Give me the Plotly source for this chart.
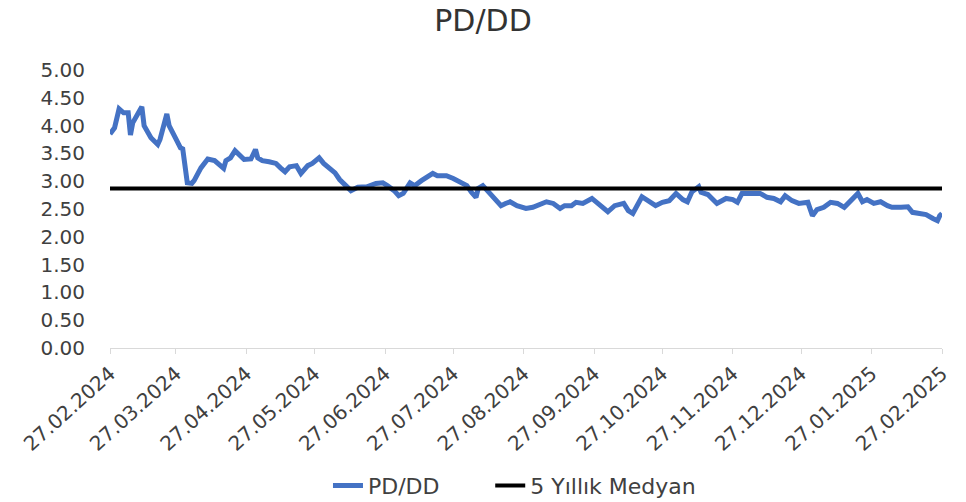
import plotly.graph_objects as go

dates = [
    "2024-02-27", "2024-02-29", "2024-03-02", "2024-03-04", "2024-03-06", "2024-03-07", "2024-03-08",
    "2024-03-10", "2024-03-12", "2024-03-13", "2024-03-15", "2024-03-16", "2024-03-19", "2024-03-20",
    "2024-03-23", "2024-03-24", "2024-03-27", "2024-03-29", "2024-03-30", "2024-04-01", "2024-04-03",
    "2024-04-04", "2024-04-07", "2024-04-10", "2024-04-13", "2024-04-15", "2024-04-17", "2024-04-18",
    "2024-04-20", "2024-04-22", "2024-04-24", "2024-04-26", "2024-04-29", "2024-05-01", "2024-05-02",
    "2024-05-04", "2024-05-07", "2024-05-10", "2024-05-12", "2024-05-14", "2024-05-16", "2024-05-19",
    "2024-05-21", "2024-05-24", "2024-05-26", "2024-05-29", "2024-05-31", "2024-06-03", "2024-06-05",
    "2024-06-07", "2024-06-10", "2024-06-12", "2024-06-15", "2024-06-19", "2024-06-23", "2024-06-26",
    "2024-06-28", "2024-07-01", "2024-07-03", "2024-07-05", "2024-07-08", "2024-07-10", "2024-07-13",
    "2024-07-15", "2024-07-18", "2024-07-20", "2024-07-24", "2024-07-27", "2024-07-30", "2024-08-02",
    "2024-08-04", "2024-08-06", "2024-08-07", "2024-08-09", "2024-08-11", "2024-08-14", "2024-08-17",
    "2024-08-19", "2024-08-21", "2024-08-24", "2024-08-28", "2024-08-31", "2024-09-03", "2024-09-06",
    "2024-09-09", "2024-09-12", "2024-09-14", "2024-09-17", "2024-09-19", "2024-09-22", "2024-09-26",
    "2024-09-30", "2024-10-03", "2024-10-06", "2024-10-10", "2024-10-12", "2024-10-14", "2024-10-18",
    "2024-10-21", "2024-10-24", "2024-10-27", "2024-10-30", "2024-11-02", "2024-11-05", "2024-11-07",
    "2024-11-09", "2024-11-12", "2024-11-13", "2024-11-16", "2024-11-20", "2024-11-24", "2024-11-27",
    "2024-11-29", "2024-12-01", "2024-12-05", "2024-12-09", "2024-12-12", "2024-12-15", "2024-12-18",
    "2024-12-20", "2024-12-23", "2024-12-26", "2024-12-30", "2025-01-01", "2025-01-03", "2025-01-06",
    "2025-01-09", "2025-01-12", "2025-01-15", "2025-01-18", "2025-01-21", "2025-01-23", "2025-01-25",
    "2025-01-28", "2025-01-31", "2025-02-03", "2025-02-05", "2025-02-09", "2025-02-12", "2025-02-14",
    "2025-02-17", "2025-02-20", "2025-02-23", "2025-02-25", "2025-02-26", "2025-02-27",
]

pd_dd = [
    3.85, 3.96, 4.30, 4.23, 4.23, 3.83, 4.05,
    4.18, 4.34, 4.00, 3.85, 3.78, 3.66, 3.75,
    4.21, 4.00, 3.76, 3.60, 3.58, 2.97, 2.96,
    3.01, 3.24, 3.40, 3.37, 3.31, 3.23, 3.37,
    3.42, 3.55, 3.46, 3.39, 3.40, 3.57, 3.42,
    3.37, 3.35, 3.32, 3.24, 3.17, 3.26, 3.28,
    3.14, 3.28, 3.32, 3.42, 3.32, 3.23, 3.15,
    3.03, 2.92, 2.83, 2.89, 2.90, 2.96, 2.97,
    2.92, 2.83, 2.74, 2.78, 2.97, 2.92, 3.01,
    3.06, 3.14, 3.10, 3.10, 3.05, 2.99, 2.92,
    2.80, 2.71, 2.87, 2.92, 2.83, 2.69, 2.56,
    2.60, 2.63, 2.56, 2.51, 2.53, 2.58, 2.63,
    2.60, 2.51, 2.56, 2.56, 2.62, 2.60, 2.69,
    2.56, 2.45, 2.56, 2.60, 2.47, 2.42, 2.72,
    2.65, 2.56, 2.62, 2.65, 2.78, 2.67, 2.63,
    2.81, 2.90, 2.80, 2.76, 2.60, 2.69, 2.67,
    2.62, 2.78, 2.78, 2.78, 2.71, 2.69, 2.63,
    2.74, 2.65, 2.60, 2.62, 2.38, 2.49, 2.53,
    2.62, 2.60, 2.53, 2.65, 2.78, 2.63, 2.67,
    2.60, 2.63, 2.56, 2.53, 2.53, 2.54, 2.44,
    2.42, 2.40, 2.33, 2.29, 2.38, 2.42,
]

median_dates = ["2024-02-27", "2025-02-27"]
median_values = [2.87, 2.87]

tick_dates = [
    "2024-02-27", "2024-03-27", "2024-04-27", "2024-05-27", "2024-06-27", "2024-07-27",
    "2024-08-27", "2024-09-27", "2024-10-27", "2024-11-27", "2024-12-27", "2025-01-27", "2025-02-27",
]
tick_labels = [
    "27.02.2024", "27.03.2024", "27.04.2024", "27.05.2024", "27.06.2024", "27.07.2024",
    "27.08.2024", "27.09.2024", "27.10.2024", "27.11.2024", "27.12.2024", "27.01.2025", "27.02.2025",
]
y_ticks = [0, 0.5, 1, 1.5, 2, 2.5, 3, 3.5, 4, 4.5, 5]
y_labels = ["0.00", "0.50", "1.00", "1.50", "2.00", "2.50", "3.00", "3.50", "4.00", "4.50", "5.00"]

FONT = "'DejaVu Sans', sans-serif"
TXT = "#404040"

fig = go.Figure()
fig.add_trace(go.Scatter(
    x=dates, y=pd_dd, mode="lines", name="PD/DD",
    line=dict(color="#4472C4", width=5), legend="legend",
))
fig.add_trace(go.Scatter(
    x=median_dates, y=median_values, mode="lines", name="5 Yıllık Medyan",
    line=dict(color="#000000", width=4), legend="legend2",
))

legend_style = dict(orientation="h", xanchor="left", y=-0.495, yanchor="middle",
                    font=dict(family=FONT, size=22, color=TXT), bgcolor="rgba(0,0,0,0)")

fig.update_layout(
    width=966, height=519,
    margin=dict(l=110, r=24, t=70, b=159),
    paper_bgcolor="white", plot_bgcolor="white",
    font=dict(family=FONT, size=19, color=TXT),
    title=dict(text="PD/DD", x=0.5, xanchor="center", y=0.96, yanchor="middle",
               font=dict(family=FONT, size=30, color="#333333")),
    showlegend=True,
    legend=dict(x=0.262, **legend_style),
    legend2=dict(x=0.457, **legend_style),
    xaxis=dict(
        type="date", range=["2024-02-27", "2025-02-27"],
        tickvals=tick_dates, ticktext=tick_labels, tickangle=-42,
        showgrid=False, zeroline=False, automargin=False,
        showline=True, linecolor="#d9d9d9", linewidth=1,
        ticks="outside", tickcolor="#d9d9d9", ticklen=5,
        tickfont=dict(family=FONT, size=20, color=TXT),
    ),
    yaxis=dict(
        range=[0, 5], tickvals=y_ticks, ticktext=y_labels,
        showgrid=False, zeroline=False, showline=False, ticks="",
        automargin=False, ticklabelstandoff=24,
        tickfont=dict(family=FONT, size=20, color=TXT),
    ),
)

fig.write_html(
    "out.html",
    config={"displayModeBar": False},
    post_script=(
        "document.documentElement.style.overflow='hidden';"
        "document.body.style.margin='0';"
        "document.body.style.overflow='hidden';"
    ),
)
